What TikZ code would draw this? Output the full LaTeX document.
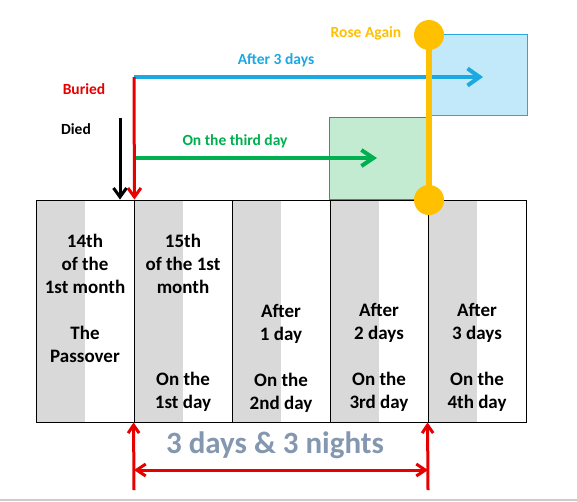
\documentclass[tikz,border=0pt]{standalone}
\usepackage{fontspec}
\setmainfont{Carlito}
\usetikzlibrary{arrows.meta}
\definecolor{gstripe}{HTML}{D9D9D9}
\definecolor{myred}{HTML}{E60000}
\definecolor{myblue}{HTML}{1CA9E1}
\definecolor{bluefill}{HTML}{C2E9F9}
\definecolor{blueedge}{HTML}{2AA8DC}
\definecolor{mygreen}{HTML}{00B050}
\definecolor{greenfill}{HTML}{C2EBD2}
\definecolor{greenedge}{HTML}{36985E}
\definecolor{myorange}{HTML}{FFC000}
\definecolor{slate}{HTML}{8497B0}
\begin{document}
\begin{tikzpicture}[x=1pt,y=-1pt,
  daycol/.style={draw=black, line width=0.9pt, minimum width=98pt, minimum height=222pt, inner sep=0pt,
    path picture={\fill[gstripe] (path picture bounding box.north west) rectangle ([xshift=49pt]path picture bounding box.south west);}},
  dtext/.style={anchor=base, font=\fontsize{19}{22}\selectfont\bfseries, inner sep=0pt},
  lbl/.style={font=\fontsize{15.5}{18}\selectfont\bfseries, inner sep=0pt},
  redarr/.style={myred, line width=3pt},
]
\useasboundingbox (0,0) rectangle (577,501);
\fill[white] (0,0) rectangle (577,501);
\draw[black!20, line width=1.5pt] (0,500) -- (577,500);

% day columns
\node[daycol] (c1) at (85,311) {};
\node[daycol] (c2) at (183,311) {};
\node[daycol] (c3) at (281,311) {};
\node[daycol] (c4) at (379,311) {};
\node[daycol] (c5) at (477,311) {};

% column texts
\node[dtext] (t11) at (85,247) {14th};
\node[dtext] (t12) at (85,270) {of the};
\node[dtext] (t13) at (85,293) {1st month};
\node[dtext] (t15) at (85,339) {The};
\node[dtext] (t16) at (85,362) {Passover};

\node[dtext] (t21) at (183,247) {15th};
\node[dtext] (t22) at (183,270) {of the 1st};
\node[dtext] (t23) at (183,293) {month};
\node[dtext] (t27) at (183,385) {On the};
\node[dtext] (t28) at (183,408) {1st day};

\node[dtext] (t34) at (281,317) {After};
\node[dtext] (t35) at (281,340) {1 day};
\node[dtext] (t37) at (281,386) {On the};
\node[dtext] (t38) at (281,409) {2nd day};

\node[dtext] (t44) at (379,316) {After};
\node[dtext] (t45) at (379,339) {2 days};
\node[dtext] (t47) at (379,385) {On the};
\node[dtext] (t48) at (379,408) {3rd day};

\node[dtext] (t54) at (477,316) {After};
\node[dtext] (t55) at (477,339) {3 days};
\node[dtext] (t57) at (477,385) {On the};
\node[dtext] (t58) at (477,408) {4th day};

% boxes
\node[draw=greenedge, fill=greenfill, line width=1pt, minimum width=98pt, minimum height=82pt, inner sep=0pt, anchor=north west] (gbox) at (329,117) {};
\node[draw=blueedge, fill=bluefill, line width=1pt, minimum width=100pt, minimum height=81pt, inner sep=0pt, anchor=north west] (bbox) at (427,34) {};

% coordinates
\coordinate (diedtop) at (120,118);
\coordinate (bur) at (134,77);
\coordinate (blueend) at (483,77);
\coordinate (gstart) at (134,158);
\coordinate (gend) at (377,158);
\coordinate (bl) at (134,490);
\coordinate (br) at (428,490);
\coordinate (hl) at (134,470);
\coordinate (hr) at (428,470);

% arrows
\draw[myblue, line width=4pt, -{Straight Barb[length=12pt,width=17pt]}] (bur) -- (blueend);
\draw[mygreen, line width=4pt, -{Straight Barb[length=12pt,width=16pt]}] (gstart) -- (gend);
\draw[black, line width=3pt, -{Straight Barb[length=9pt,width=13pt]}] (diedtop) -- (diedtop |- c1.north);
\draw[redarr, -{Straight Barb[length=9pt,width=13pt]}] (bur) -- (c1.north east);

\draw[redarr, -{Straight Barb[length=8pt,width=11pt]}] (bl) -- (c2.south west);
\draw[redarr, -{Straight Barb[length=8pt,width=11pt]}] (br) -- (c5.south west);
\draw[redarr, {Straight Barb[length=9pt,width=12pt]}-{Straight Barb[length=9pt,width=12pt]}] (hl) -- (hr);

% rose again
\node[circle, fill=myorange, minimum size=30pt, inner sep=0pt] (r1) at (429,35) {};
\node[circle, fill=myorange, minimum size=30pt, inner sep=0pt] (r2) at (429,200) {};
\draw[myorange, line width=6pt] (r1.center) -- (r2.center);

% labels
\node[lbl, text=black] (ldied) at (76,129) {Died};
\node[lbl, text=myred] (lbur) at (84,89) {Buried};
\node[lbl, text=myblue] (lafter) at (276,60) {After 3 days};
\node[lbl, text=mygreen] (lthird) at (235,141) {On the third day};
\node[lbl, text=myorange] (lrose) at (366,33) {Rose Again};
\node[font=\fontsize{31}{36}\selectfont\bfseries, text=slate, inner sep=0pt] (span) at (275,445) {3 days \& 3 nights};
\end{tikzpicture}
\end{document}
